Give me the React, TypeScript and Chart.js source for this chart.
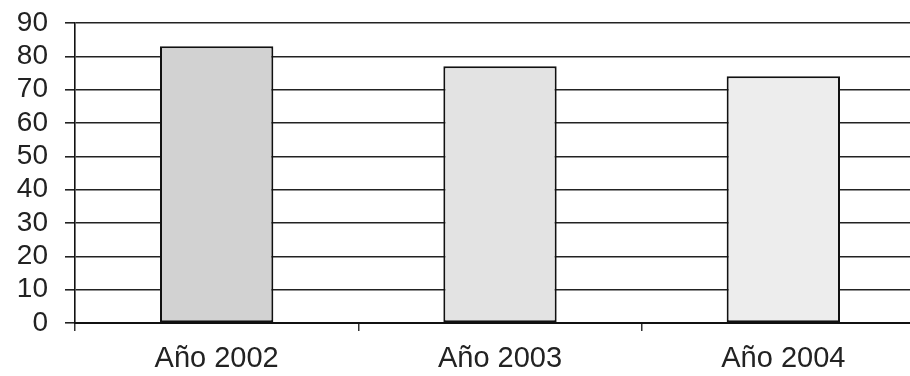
import React, { useEffect, useRef } from "react";
import { Chart, registerables } from "chart.js";

Chart.register(...registerables);

const categories = ["Año 2002", "Año 2003", "Año 2004"];
const values = [83, 77, 74];
const barColors = ["#d2d2d2", "#e3e3e3", "#ededed"];
const yMin = 0;
const yMax = 90;
const yStep = 10;

export default function App() {
  const ref = useRef<HTMLCanvasElement | null>(null);
  useEffect(() => {
    if (!ref.current) return;
    const chart = new Chart(ref.current, {
      type: "bar",
      data: {
        labels: categories,
        datasets: [
          {
            data: values,
            backgroundColor: barColors,
            borderColor: "#111",
            borderWidth: 2,
            borderSkipped: false,
            categoryPercentage: 1,
            barPercentage: 0.4,
          },
        ],
      },
      options: {
        animation: false,
        responsive: false,
        maintainAspectRatio: false,
        layout: { padding: { top: 23, right: 0, left: 0, bottom: 0 } },
        plugins: { legend: { display: false }, tooltip: { enabled: false } },
        scales: {
          x: {
            offset: true,
            grid: {
              offset: true,
              drawOnChartArea: false,
              drawTicks: true,
              tickLength: 8,
              color: "#333",
              lineWidth: 1.5,
            },
            border: { display: true, color: "#111", width: 2 },
            ticks: {
              font: { family: "Liberation Sans, Arial", size: 29 },
              color: "#222",
              padding: 11,
              autoSkip: false,
              maxRotation: 0,
            },
            afterFit: (s: any) => {
              s.height = 53;
              s.paddingLeft = 0;
              s.paddingRight = 0;
            },
          },
          y: {
            min: yMin,
            max: yMax,
            ticks: {
              stepSize: yStep,
              autoSkip: false,
              font: { family: "Liberation Sans, Arial", size: 28 },
              color: "#222",
              padding: 17,
            },
            grid: {
              color: "#222",
              lineWidth: 1.6,
              tickLength: 10,
            },
            border: { display: true, color: "#111", width: 1.6 },
            afterFit: (s: any) => {
              s.width = 75;
              s.paddingTop = 0;
              s.paddingBottom = 0;
            },
          },
        },
      },
    });
    return () => chart.destroy();
  }, []);
  return (
    <div
      style={{
        position: "absolute",
        left: 0,
        top: 0,
        width: 910,
        height: 376,
        overflow: "hidden",
        background: "#fff",
      }}
    >
      <canvas ref={ref} width={925} height={376} style={{ display: "block" }} />
    </div>
  );
}
